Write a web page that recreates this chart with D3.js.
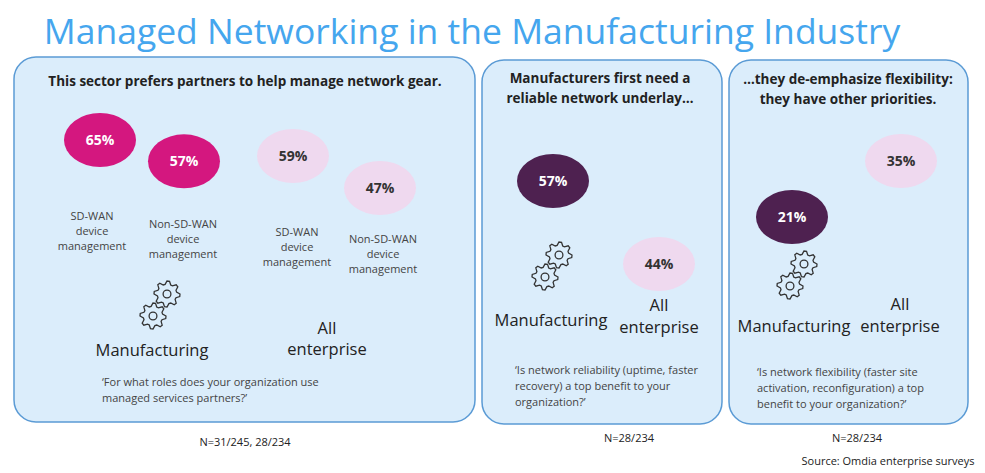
<!DOCTYPE html>
<html><head><meta charset="utf-8">
<script src="https://cdn.jsdelivr.net/npm/d3@7"></script>
<style>body{margin:0;background:#fff}svg{display:block}</style>
</head><body>
<script>
// Data
const panel1Labels = ["SD-WAN device management (Mfg)", "Non-SD-WAN device management (Mfg)", "SD-WAN device management (All)", "Non-SD-WAN device management (All)"];
const panel1Values = [65, 57, 59, 47];
const panel1Group = ["mfg", "mfg", "all", "all"];
const panel2Groups = ["Manufacturing", "All enterprise"];
const panel2Values = [57, 44];
const panel3Groups = ["Manufacturing", "All enterprise"];
const panel3Values = [21, 35];

const W = 985, H = 473;
const svg = d3.select("body").append("svg").attr("width", W).attr("height", H)
  .style("font-family", "'Open Sans', 'Noto Sans', sans-serif");

svg.append("text").attr("x", 472).attr("y", 44).attr("text-anchor", "middle")
  .attr("font-size", 35.5).attr("fill", "#45a6ee").text("Managed Networking in the Manufacturing Industry");

const panels = [[14, 57, 461, 365], [482, 60, 240, 364], [729, 60, 239, 364]];
panels.forEach(p => svg.append("rect").attr("x", p[0]).attr("y", p[1]).attr("width", p[2]).attr("height", p[3])
  .attr("rx", 22).attr("fill", "#dbedfb").attr("stroke", "#5b9bd5").attr("stroke-width", 1.5));

function lines(x, y, arr, opts) {
  const t = svg.append("text").attr("x", x).attr("y", y).attr("text-anchor", opts.anchor || "middle")
    .attr("font-size", opts.size).attr("fill", opts.fill || "#222").attr("font-weight", opts.weight || "normal");
  arr.forEach((s, i) => t.append("tspan").attr("x", x).attr("dy", i ? opts.lh : 0).text(s));
}

const colors = { mfg: "#d4177f", all: "#efd9ef", dark: "#4e2150" };
function bubble(cx, cy, v, fill, txt) {
  svg.append("ellipse").attr("cx", cx).attr("cy", cy).attr("rx", 36).attr("ry", 27).attr("fill", fill);
  svg.append("text").attr("x", cx).attr("y", cy + 5).attr("text-anchor", "middle").attr("font-size", 14)
    .attr("font-weight", "bold").attr("fill", txt).text(v + "%");
}

function gear(cx, cy, r) {
  const teeth = 8, pts = [];
  for (let i = 0; i < teeth * 4; i++) {
    const a = (i / (teeth * 4)) * 2 * Math.PI;
    const rr = (i % 4 < 2) ? r : r * 0.75;
    pts.push([cx + rr * Math.cos(a), cy + rr * Math.sin(a)]);
  }
  svg.append("path").attr("d", d3.line().curve(d3.curveLinearClosed)(pts)).attr("fill", "none")
    .attr("stroke", "#333").attr("stroke-width", 1.3);
  svg.append("circle").attr("cx", cx).attr("cy", cy).attr("r", r * 0.3).attr("fill", "none")
    .attr("stroke", "#333").attr("stroke-width", 1.3);
}
function gears(x, y) { gear(x + 14, y - 11, 13); gear(x, y + 11, 13); }

// Panel 1
lines(245, 86, ["This sector prefers partners to help manage network gear."], { size: 13.5, weight: "bold" });
const y1 = d3.scaleLinear().domain([47, 65]).range([188, 140]);
const x1 = d3.scaleOrdinal().domain(panel1Labels).range([100, 184, 293, 380]);
panel1Labels.forEach((l, i) => {
  const g = panel1Group[i];
  bubble(x1(l), y1(panel1Values[i]), panel1Values[i], colors[g], g === "mfg" ? "#fff" : "#333");
});
const cats1 = [["SD-WAN", "device", "management"], ["Non-SD-WAN", "device", "management"]];
[[92, 220], [183, 228], [297, 236], [383, 243]].forEach((p, i) =>
  lines(p[0], p[1], cats1[i % 2], { size: 11, lh: 15, fill: "#444" }));
gears(153, 305);
lines(152, 356, ["Manufacturing"], { size: 16.5 });
lines(327, 334, ["All", "enterprise"], { size: 16.5, lh: 21 });
lines(102, 386, ["\u2018For what roles does your organization use", "managed services partners?\u2019"], { size: 11, lh: 16, anchor: "start", fill: "#444" });
lines(245, 446, ["N=31/245, 28/234"], { size: 11 });

// Panel 2
lines(600, 83, ["Manufacturers first need a", "reliable network underlay\u2026"], { size: 13.5, weight: "bold", lh: 20 });
const y2 = d3.scaleLinear().domain([44, 57]).range([264, 181]);
const x2 = d3.scalePoint().domain(panel2Groups).range([553, 659]);
bubble(x2(panel2Groups[0]), y2(panel2Values[0]), panel2Values[0], colors.dark, "#fff");
bubble(x2(panel2Groups[1]), y2(panel2Values[1]), panel2Values[1], colors.all, "#333");
gears(545, 266);
lines(551, 326, ["Manufacturing"], { size: 16.5 });
lines(659, 311, ["All", "enterprise"], { size: 16.5, lh: 22 });
lines(515, 374, ["\u2018Is network reliability (uptime, faster", "recovery) a top benefit to your", "organization?\u2019"], { size: 11, lh: 16, anchor: "start", fill: "#444" });
lines(629, 442, ["N=28/234"], { size: 11 });

// Panel 3
lines(848, 84, ["\u2026they de-emphasize flexibility:", "they have other priorities."], { size: 13.5, weight: "bold", lh: 20 });
const y3 = d3.scaleLinear().domain([21, 35]).range([217, 161]);
const x3 = d3.scalePoint().domain(panel3Groups).range([792, 901]);
bubble(x3(panel3Groups[0]), y3(panel3Values[0]), panel3Values[0], colors.dark, "#fff");
bubble(x3(panel3Groups[1]), y3(panel3Values[1]), panel3Values[1], colors.all, "#333");
gears(790, 275);
lines(794, 332, ["Manufacturing"], { size: 16.5 });
lines(900, 310, ["All", "enterprise"], { size: 16.5, lh: 22 });
lines(757, 376, ["\u2018Is network flexibility (faster site", "activation, reconfiguration) a top", "benefit to your organization?\u2019"], { size: 11, lh: 16, anchor: "start", fill: "#444" });
lines(857, 442, ["N=28/234"], { size: 11 });
lines(888, 465, ["Source: Omdia enterprise surveys"], { size: 11 });
</script>
</body></html>
